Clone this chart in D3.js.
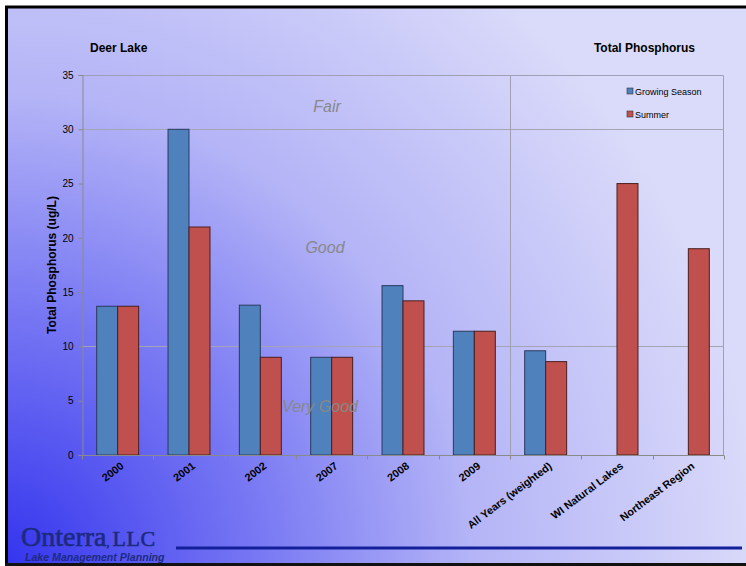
<!DOCTYPE html>
<html>
<head>
<meta charset="utf-8">
<script src="https://cdn.jsdelivr.net/npm/d3@7"></script>
<style>
  html, body { margin: 0; padding: 0; background: #fff; }
  svg { display: block; font-family: "Liberation Sans", Arial, sans-serif; }
</style>
</head>
<body>
<svg id="chart" width="746" height="566"></svg>
<script>
// Deer Lake total phosphorus, by year and against reference groups
const categories = ["2000", "2001", "2002", "2007", "2008", "2009",
  "All Years (weighted)", "WI Natural Lakes", "Northeast Region"];
const growingSeason = [13.7, 30, 13.8, 9, 15.6, 11.4, 9.6, null, null];
const summer = [13.7, 21, 9, 9, 14.2, 11.4, 8.6, 25, 19];
const seriesNames = ["Growing Season", "Summer"];
const seriesColors = ["#4f81bd", "#c0504d"];
const yTicks = [0, 5, 10, 15, 20, 25, 30, 35];
const trophicLines = [10, 30];
const trophicLabels = [
  { text: "Fair", value: 31.6, x: 327 },
  { text: "Good", value: 18.6, x: 325 },
  { text: "Very Good", value: 4.0, x: 320 }
];

const svg = d3.select("#chart");
const W = 746, H = 566;

// background gradient, dark blue in lower-left fading to lavender
const defs = svg.append("defs");
const grad = defs.append("radialGradient")
  .attr("id", "bg").attr("gradientUnits", "userSpaceOnUse")
  .attr("cx", 0).attr("cy", 566).attr("r", 760);
grad.append("stop").attr("offset", 0).attr("stop-color", "#3333ee");
grad.append("stop").attr("offset", 0.35).attr("stop-color", "#7a7af4");
grad.append("stop").attr("offset", 0.62).attr("stop-color", "#b4b4f7");
grad.append("stop").attr("offset", 1).attr("stop-color", "#dadafa");

svg.append("rect").attr("x", 0).attr("y", 0).attr("width", W).attr("height", H).attr("fill", "#ffffff");
svg.append("rect").attr("x", 6).attr("y", 7).attr("width", W - 6).attr("height", H - 9).attr("fill", "url(#bg)");
// frame
svg.append("line").attr("x1", 5).attr("x2", W).attr("y1", 7).attr("y2", 7).attr("stroke", "#000").attr("stroke-width", 3);
svg.append("line").attr("x1", 6.5).attr("x2", 6.5).attr("y1", 6).attr("y2", H - 2).attr("stroke", "#000").attr("stroke-width", 3);
svg.append("line").attr("x1", 5).attr("x2", W).attr("y1", H - 1.5).attr("y2", H - 1.5).attr("stroke", "#111").attr("stroke-width", 3);

const plot = { left: 82, right: 724, top: 75, bottom: 455 };

const x = d3.scaleBand().domain(categories).range([plot.left, plot.right]).paddingInner(0).paddingOuter(0);
const xs = d3.scaleBand().domain([0, 1]).range([0, x.bandwidth()]).paddingInner(0).paddingOuter(0.7);
const y = d3.scaleLinear().domain([0, 35]).range([plot.bottom, plot.top]);

// plot frame on top and right
svg.append("path")
  .attr("d", `M${plot.left},${plot.top + 0.5}H${plot.right - 0.5}V${plot.bottom}`)
  .attr("fill", "none").attr("stroke", "#a0a0b4").attr("stroke-width", 1);

// trophic boundary lines
svg.selectAll(".troph").data(trophicLines).join("line")
  .attr("x1", plot.left).attr("x2", plot.right)
  .attr("y1", d => Math.round(y(d)) + 0.5).attr("y2", d => Math.round(y(d)) + 0.5)
  .attr("stroke", "#a4a4b4").attr("stroke-width", 1);

// separator between yearly values and reference groups
const sepX = Math.round(x(categories[6]));
svg.append("line").attr("x1", sepX + 0.5).attr("x2", sepX + 0.5)
  .attr("y1", plot.top).attr("y2", plot.bottom)
  .attr("stroke", "#a0a0b0").attr("stroke-width", 1);

// bars
const rows = categories.map((c, i) => ({ cat: c, vals: [growingSeason[i], summer[i]] }));
const groups = svg.selectAll(".grp").data(rows).join("g")
  .attr("transform", d => `translate(${x(d.cat)},0)`);
groups.selectAll("rect")
  .data(d => d.vals.map((v, k) => ({ v, k })).filter(e => e.v != null))
  .join("rect")
  .attr("x", d => xs(d.k))
  .attr("width", xs.bandwidth())
  .attr("y", d => y(d.v))
  .attr("height", d => y(0) - y(d.v))
  .attr("fill", d => seriesColors[d.k])
  .attr("stroke", d => d.k === 0 ? "#2a3a5e" : "#4a1e1e")
  .attr("stroke-width", 1);

// trophic state labels, drawn over the bars
svg.selectAll(".tlabel").data(trophicLabels).join("text")
  .attr("x", d => d.x).attr("y", d => y(d.value))
  .attr("text-anchor", "middle")
  .attr("font-size", 16).attr("font-style", "italic")
  .attr("fill", "#888888")
  .text(d => d.text);

// y axis
const yAxis = d3.axisLeft(y).tickValues(yTicks).tickSize(4).tickPadding(5);
const gy = svg.append("g").attr("transform", `translate(${plot.left + 0.5},0)`).call(yAxis);
gy.select(".domain").attr("stroke", "#8a8a8a");
gy.selectAll(".tick line").attr("stroke", "#8a8a8a");
gy.selectAll(".tick text").attr("font-size", 10).attr("fill", "#000")
  .attr("font-family", "Liberation Sans, Arial, sans-serif");

// x axis with ticks at category boundaries
const gx = svg.append("g").attr("transform", `translate(0,${plot.bottom + 0.5})`);
gx.append("line").attr("x1", plot.left).attr("x2", plot.right).attr("stroke", "#8a8a8a");
const bounds = categories.map(c => x(c)).concat([plot.right]);
gx.selectAll(".xt").data(bounds).join("line")
  .attr("x1", d => Math.round(d) + 0.5).attr("x2", d => Math.round(d) + 0.5)
  .attr("y1", 0).attr("y2", 4).attr("stroke", "#8a8a8a");
gx.selectAll(".xl").data(categories).join("text")
  .attr("transform", c => `translate(${x(c) + x.bandwidth() / 2 + 7},${12}) rotate(-37)`)
  .attr("text-anchor", "end")
  .attr("font-size", 10.8).attr("font-weight", "bold").attr("fill", "#000")
  .text(c => c);

// axis title
svg.append("text")
  .attr("transform", `translate(56,265) rotate(-90)`)
  .attr("text-anchor", "middle")
  .attr("font-size", 12).attr("font-weight", "bold").attr("fill", "#000")
  .text("Total Phosphorus (ug/L)");

// headings
svg.append("text").attr("x", 90).attr("y", 52)
  .attr("font-size", 12).attr("font-weight", "bold").text("Deer Lake");
svg.append("text").attr("x", 695).attr("y", 52).attr("text-anchor", "end")
  .attr("font-size", 12).attr("font-weight", "bold").text("Total Phosphorus");

// legend
const lg = svg.append("g").attr("transform", "translate(627,91)");
seriesNames.forEach((n, i) => {
  lg.append("rect").attr("x", 0).attr("y", i * 23 - 3).attr("width", 6).attr("height", 6)
    .attr("fill", seriesColors[i]).attr("stroke", "#333").attr("stroke-width", 0.6);
  lg.append("text").attr("x", 8).attr("y", i * 23 + 3.5)
    .attr("font-size", 9).attr("fill", "#000").text(n);
});

// company mark
const logo = svg.append("text").attr("x", 21).attr("y", 546)
  .attr("font-family", "Liberation Serif, Times New Roman, serif")
  .attr("fill", "#1c2a80").attr("stroke", "#1c2a80").attr("stroke-width", 0.6);
logo.append("tspan").attr("font-size", 28).attr("letter-spacing", 0).text("Onterra");
logo.append("tspan").attr("font-size", 12).text(",");
logo.append("tspan").attr("font-size", 22).attr("dx", 3).attr("letter-spacing", 0.5).text("LLC");
svg.append("text").attr("x", 25).attr("y", 561)
  .attr("font-size", 10.6).attr("font-weight", "bold").attr("font-style", "italic")
  .attr("fill", "#1c2a80").text("Lake Management Planning");
svg.append("line").attr("x1", 176).attr("x2", 742).attr("y1", 548).attr("y2", 548)
  .attr("stroke", "#14209a").attr("stroke-width", 3);
</script>
</body>
</html>
